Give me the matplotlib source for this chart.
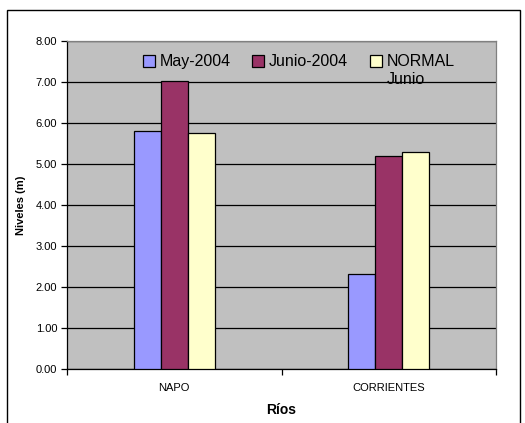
import matplotlib
matplotlib.use("Agg")
import matplotlib.pyplot as plt
from matplotlib.patches import Rectangle
import numpy as np

plt.rcParams['font.family'] = ['Liberation Sans', 'DejaVu Sans']

categories = ["NAPO", "CORRIENTES"]
series_names = ["May-2004", "Junio-2004", "NORMAL"]
may_2004 = [5.80, 2.31]
junio_2004 = [7.02, 5.20]
normal_junio = [5.75, 5.29]
colors = ["#9999FF", "#993366", "#FFFFCC"]
yticks = [0, 1, 2, 3, 4, 5, 6, 7, 8]

W, H = 525, 423
fig = plt.figure(figsize=(W / 100, H / 100), dpi=100)
ax = fig.add_axes([67 / W, 1 - 369 / H, (496 - 67) / W, (369 - 41) / H])
ax.set_facecolor("#C0C0C0")

x = np.arange(len(categories))
bw = 0.126
series = [may_2004, junio_2004, normal_junio]
for i, (vals, c, name) in enumerate(zip(series, colors, series_names)):
    ax.bar(x + (i - 1) * bw, vals, width=bw, color=c, edgecolor="black",
           linewidth=0.9, label=name, zorder=3)

ax.set_xlim(-0.5, 1.5)
ax.set_ylim(0, 8)
ax.set_yticks(yticks)
ax.set_yticklabels([f"{v:.2f}" for v in yticks], fontsize=8)
ax.yaxis.grid(True, color="black", linewidth=0.9, zorder=1)
ax.set_axisbelow(True)

ax.set_xticks(x)
ax.set_xticklabels(categories, fontsize=8)
ax.tick_params(axis='x', which='major', length=0, pad=10)
ax.set_xticks([-0.5, 0.5, 1.5], minor=True)
ax.tick_params(axis='x', which='minor', length=4, direction='out', width=0.9)
ax.tick_params(axis='y', length=4, width=0.9, pad=3)

for s in ["left", "bottom"]:
    ax.spines[s].set_color("black")
    ax.spines[s].set_linewidth(0.9)
for s in ["top", "right"]:
    ax.spines[s].set_color("#808080")
    ax.spines[s].set_linewidth(0.9)

ax.set_ylabel("Niveles (m)", fontsize=8, fontweight="bold", labelpad=7)
ax.set_xlabel("Ríos", fontsize=10, fontweight="bold", labelpad=7)

leg = ax.legend(loc="upper center", bbox_to_anchor=(0.54, 0.993), ncol=3,
                frameon=False, fontsize=11.5, handlelength=0.75,
                handleheight=0.75, handletextpad=0.3, columnspacing=1.35,
                borderpad=0.2)

fig.canvas.draw()
t = leg.get_texts()[2]
bb = t.get_window_extent().transformed(fig.transFigure.inverted())
fig.text(bb.x0, bb.y0 - 0.006, "Junio", ha="left", va="top",
         fontsize=11.5, zorder=10)

fig.patches.append(Rectangle((7 / W, -0.1), (520 - 7) / W, 1 - 10 / H + 0.1,
                             transform=fig.transFigure, fill=False,
                             edgecolor="black", linewidth=1.0))

fig.savefig("out.png", dpi=100)
